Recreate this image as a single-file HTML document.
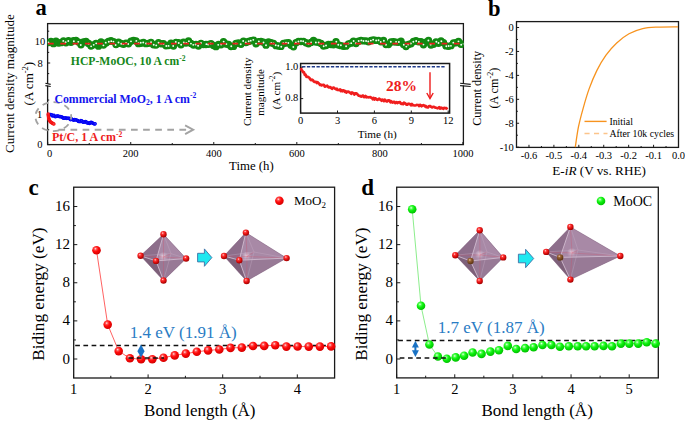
<!DOCTYPE html>
<html><head><meta charset="utf-8"><style>
html,body{margin:0;padding:0;background:#fff;}
svg{display:block;font-family:'Liberation Serif', serif;}
</style></head><body>
<svg width="685" height="424" viewBox="0 0 685 424">
<rect width="685" height="424" fill="#fff"/>
<defs>
<radialGradient id="gr" cx="0.38" cy="0.33" r="0.68">
 <stop offset="0" stop-color="#ffe6e6"/><stop offset="0.22" stop-color="#ff5050"/><stop offset="0.5" stop-color="#ff0a0a"/><stop offset="1" stop-color="#d40000"/>
</radialGradient>
<radialGradient id="gg" cx="0.38" cy="0.33" r="0.68">
 <stop offset="0" stop-color="#eaffea"/><stop offset="0.22" stop-color="#55ff55"/><stop offset="0.5" stop-color="#0cf00c"/><stop offset="1" stop-color="#00c000"/>
</radialGradient>
<radialGradient id="go" cx="0.38" cy="0.33" r="0.68">
 <stop offset="0" stop-color="#ffdddd"/><stop offset="0.25" stop-color="#ff3a3a"/><stop offset="0.6" stop-color="#e01010"/><stop offset="1" stop-color="#a00000"/>
</radialGradient>
<radialGradient id="gc" cx="0.38" cy="0.33" r="0.68">
 <stop offset="0" stop-color="#e8c8a8"/><stop offset="0.3" stop-color="#9a6436"/><stop offset="1" stop-color="#5a3210"/>
</radialGradient>
<radialGradient id="gm" cx="0.45" cy="0.42" r="0.6">
 <stop offset="0" stop-color="#e8d4e4"/><stop offset="1" stop-color="#b79ab4" stop-opacity="0"/>
</radialGradient>
</defs>
<rect x="47.6" y="23.6" width="415.79999999999995" height="121.0" fill="none" stroke="#1a1a1a" stroke-width="1.3"/>
<line x1="47.70" y1="144.60" x2="47.70" y2="142.00" stroke="#1a1a1a" stroke-width="1" />
<line x1="89.22" y1="144.60" x2="89.22" y2="143.00" stroke="#1a1a1a" stroke-width="1" />
<line x1="130.74" y1="144.60" x2="130.74" y2="142.00" stroke="#1a1a1a" stroke-width="1" />
<line x1="172.26" y1="144.60" x2="172.26" y2="143.00" stroke="#1a1a1a" stroke-width="1" />
<line x1="213.78" y1="144.60" x2="213.78" y2="142.00" stroke="#1a1a1a" stroke-width="1" />
<line x1="255.30" y1="144.60" x2="255.30" y2="143.00" stroke="#1a1a1a" stroke-width="1" />
<line x1="296.82" y1="144.60" x2="296.82" y2="142.00" stroke="#1a1a1a" stroke-width="1" />
<line x1="338.34" y1="144.60" x2="338.34" y2="143.00" stroke="#1a1a1a" stroke-width="1" />
<line x1="379.86" y1="144.60" x2="379.86" y2="142.00" stroke="#1a1a1a" stroke-width="1" />
<line x1="421.38" y1="144.60" x2="421.38" y2="143.00" stroke="#1a1a1a" stroke-width="1" />
<line x1="462.90" y1="144.60" x2="462.90" y2="142.00" stroke="#1a1a1a" stroke-width="1" />
<text x="49.50" y="157.20" font-size="10.5" text-anchor="middle" fill="#000" >0</text>
<text x="130.74" y="157.20" font-size="10.5" text-anchor="middle" fill="#000" >200</text>
<text x="213.78" y="157.20" font-size="10.5" text-anchor="middle" fill="#000" >400</text>
<text x="296.82" y="157.20" font-size="10.5" text-anchor="middle" fill="#000" >600</text>
<text x="379.86" y="157.20" font-size="10.5" text-anchor="middle" fill="#000" >800</text>
<text x="462.90" y="157.20" font-size="10.5" text-anchor="middle" fill="#000" >1000</text>
<text x="251.40" y="169.50" font-size="12.8" text-anchor="middle" fill="#000" >Time (h)</text>
<line x1="47.60" y1="144.60" x2="50.20" y2="144.60" stroke="#1a1a1a" stroke-width="1" />
<line x1="47.60" y1="129.75" x2="49.20" y2="129.75" stroke="#1a1a1a" stroke-width="1" />
<line x1="47.60" y1="114.90" x2="50.20" y2="114.90" stroke="#1a1a1a" stroke-width="1" />
<line x1="47.60" y1="100.05" x2="49.20" y2="100.05" stroke="#1a1a1a" stroke-width="1" />
<line x1="47.60" y1="73.60" x2="49.20" y2="73.60" stroke="#1a1a1a" stroke-width="1" />
<line x1="47.60" y1="63.00" x2="50.20" y2="63.00" stroke="#1a1a1a" stroke-width="1" />
<line x1="47.60" y1="52.40" x2="49.20" y2="52.40" stroke="#1a1a1a" stroke-width="1" />
<line x1="47.60" y1="41.80" x2="50.20" y2="41.80" stroke="#1a1a1a" stroke-width="1" />
<line x1="47.60" y1="31.20" x2="49.20" y2="31.20" stroke="#1a1a1a" stroke-width="1" />
<text x="42.50" y="148.20" font-size="10.5" text-anchor="end" fill="#000" >0</text>
<text x="42.30" y="117.50" font-size="10.5" text-anchor="end" fill="#000" >1</text>
<text x="42.80" y="66.60" font-size="10.5" text-anchor="end" fill="#000" >8</text>
<text x="45.20" y="45.40" font-size="10.5" text-anchor="end" fill="#000" >10</text>
<polygon points="45.4,83.5 50.7,84.8 50.7,86.1 45.4,85.3" fill="#fff" stroke="none"/>
<line x1="45.40" y1="83.20" x2="50.70" y2="84.40" stroke="#1a1a1a" stroke-width="1.1" />
<line x1="45.40" y1="85.60" x2="50.70" y2="86.50" stroke="#1a1a1a" stroke-width="1.1" />
<polygon points="460.1,83.5 470.7,84.8 470.7,86.1 460.1,85.3" fill="#fff" stroke="none"/>
<line x1="460.10" y1="83.20" x2="470.70" y2="84.40" stroke="#1a1a1a" stroke-width="1.1" />
<line x1="460.10" y1="85.60" x2="470.70" y2="86.50" stroke="#1a1a1a" stroke-width="1.1" />
<text transform="translate(13.8,83.6) rotate(-90)" font-size="13" text-anchor="middle" fill="#000">Current density magnitude</text>
<text transform="translate(33.2,83.6) rotate(-90)" font-size="13" text-anchor="middle" fill="#000">(A cm<tspan dy="-5" font-size="8.5">-2</tspan><tspan dy="5">)</tspan></text>
<text x="35.40" y="15.20" font-size="22.5" text-anchor="start" font-weight="bold" fill="#000" >a</text>
<clipPath id="cpa"><rect x="47.6" y="23.6" width="415.8" height="121"/></clipPath><g clip-path="url(#cpa)">
<circle cx="48.50" cy="42.61" r="2.5" fill="#128a12" stroke="#128a12" stroke-width="2.4"/>
<circle cx="51.00" cy="41.37" r="2.5" fill="#128a12" stroke="#128a12" stroke-width="2.4"/>
<circle cx="53.50" cy="43.63" r="2.5" fill="#128a12" stroke="#128a12" stroke-width="2.4"/>
<circle cx="56.00" cy="41.30" r="2.5" fill="#128a12" stroke="#128a12" stroke-width="2.4"/>
<circle cx="58.50" cy="42.99" r="2.5" fill="#128a12" stroke="#128a12" stroke-width="2.4"/>
<circle cx="61.00" cy="42.66" r="2.5" fill="#128a12" stroke="#128a12" stroke-width="2.4"/>
<circle cx="63.50" cy="40.88" r="2.5" fill="#128a12" stroke="#128a12" stroke-width="2.4"/>
<circle cx="66.00" cy="42.69" r="2.5" fill="#128a12" stroke="#128a12" stroke-width="2.4"/>
<circle cx="68.50" cy="40.78" r="2.5" fill="#128a12" stroke="#128a12" stroke-width="2.4"/>
<circle cx="71.00" cy="42.26" r="2.5" fill="#128a12" stroke="#128a12" stroke-width="2.4"/>
<circle cx="73.50" cy="40.81" r="2.5" fill="#128a12" stroke="#128a12" stroke-width="2.4"/>
<circle cx="76.00" cy="40.41" r="2.5" fill="#128a12" stroke="#128a12" stroke-width="2.4"/>
<circle cx="78.50" cy="42.08" r="2.5" fill="#128a12" stroke="#128a12" stroke-width="2.4"/>
<circle cx="81.00" cy="44.83" r="2.5" fill="#128a12" stroke="#128a12" stroke-width="2.4"/>
<circle cx="83.50" cy="42.00" r="2.5" fill="#128a12" stroke="#128a12" stroke-width="2.4"/>
<circle cx="86.00" cy="41.55" r="2.5" fill="#128a12" stroke="#128a12" stroke-width="2.4"/>
<circle cx="88.50" cy="43.57" r="2.5" fill="#128a12" stroke="#128a12" stroke-width="2.4"/>
<circle cx="91.00" cy="46.01" r="2.5" fill="#128a12" stroke="#128a12" stroke-width="2.4"/>
<circle cx="93.50" cy="44.86" r="2.5" fill="#128a12" stroke="#128a12" stroke-width="2.4"/>
<circle cx="96.00" cy="43.48" r="2.5" fill="#128a12" stroke="#128a12" stroke-width="2.4"/>
<circle cx="98.50" cy="46.13" r="2.5" fill="#128a12" stroke="#128a12" stroke-width="2.4"/>
<circle cx="101.00" cy="42.04" r="2.5" fill="#128a12" stroke="#128a12" stroke-width="2.4"/>
<circle cx="103.50" cy="44.99" r="2.5" fill="#128a12" stroke="#128a12" stroke-width="2.4"/>
<circle cx="106.00" cy="42.95" r="2.5" fill="#128a12" stroke="#128a12" stroke-width="2.4"/>
<circle cx="108.50" cy="41.45" r="2.5" fill="#128a12" stroke="#128a12" stroke-width="2.4"/>
<circle cx="111.00" cy="40.78" r="2.5" fill="#128a12" stroke="#128a12" stroke-width="2.4"/>
<circle cx="113.50" cy="41.58" r="2.5" fill="#128a12" stroke="#128a12" stroke-width="2.4"/>
<circle cx="116.00" cy="44.60" r="2.5" fill="#128a12" stroke="#128a12" stroke-width="2.4"/>
<circle cx="118.50" cy="42.23" r="2.5" fill="#128a12" stroke="#128a12" stroke-width="2.4"/>
<circle cx="121.00" cy="43.56" r="2.5" fill="#128a12" stroke="#128a12" stroke-width="2.4"/>
<circle cx="123.50" cy="44.34" r="2.5" fill="#128a12" stroke="#128a12" stroke-width="2.4"/>
<circle cx="126.00" cy="43.17" r="2.5" fill="#128a12" stroke="#128a12" stroke-width="2.4"/>
<circle cx="128.50" cy="43.71" r="2.5" fill="#128a12" stroke="#128a12" stroke-width="2.4"/>
<circle cx="131.00" cy="41.28" r="2.5" fill="#128a12" stroke="#128a12" stroke-width="2.4"/>
<circle cx="133.50" cy="40.41" r="2.5" fill="#128a12" stroke="#128a12" stroke-width="2.4"/>
<circle cx="136.00" cy="40.90" r="2.5" fill="#128a12" stroke="#128a12" stroke-width="2.4"/>
<circle cx="138.50" cy="43.63" r="2.5" fill="#128a12" stroke="#128a12" stroke-width="2.4"/>
<circle cx="141.00" cy="43.22" r="2.5" fill="#128a12" stroke="#128a12" stroke-width="2.4"/>
<circle cx="143.50" cy="42.46" r="2.5" fill="#128a12" stroke="#128a12" stroke-width="2.4"/>
<circle cx="146.00" cy="43.66" r="2.5" fill="#128a12" stroke="#128a12" stroke-width="2.4"/>
<circle cx="148.50" cy="43.37" r="2.5" fill="#128a12" stroke="#128a12" stroke-width="2.4"/>
<circle cx="151.00" cy="42.44" r="2.5" fill="#128a12" stroke="#128a12" stroke-width="2.4"/>
<circle cx="153.50" cy="44.78" r="2.5" fill="#128a12" stroke="#128a12" stroke-width="2.4"/>
<circle cx="156.00" cy="45.09" r="2.5" fill="#128a12" stroke="#128a12" stroke-width="2.4"/>
<circle cx="158.50" cy="42.74" r="2.5" fill="#128a12" stroke="#128a12" stroke-width="2.4"/>
<circle cx="161.00" cy="43.70" r="2.5" fill="#128a12" stroke="#128a12" stroke-width="2.4"/>
<circle cx="163.50" cy="43.77" r="2.5" fill="#128a12" stroke="#128a12" stroke-width="2.4"/>
<circle cx="166.00" cy="45.69" r="2.5" fill="#128a12" stroke="#128a12" stroke-width="2.4"/>
<circle cx="168.50" cy="45.57" r="2.5" fill="#128a12" stroke="#128a12" stroke-width="2.4"/>
<circle cx="171.00" cy="43.14" r="2.5" fill="#128a12" stroke="#128a12" stroke-width="2.4"/>
<circle cx="173.50" cy="46.03" r="2.5" fill="#128a12" stroke="#128a12" stroke-width="2.4"/>
<circle cx="176.00" cy="42.39" r="2.5" fill="#128a12" stroke="#128a12" stroke-width="2.4"/>
<circle cx="178.50" cy="42.73" r="2.5" fill="#128a12" stroke="#128a12" stroke-width="2.4"/>
<circle cx="181.00" cy="44.69" r="2.5" fill="#128a12" stroke="#128a12" stroke-width="2.4"/>
<circle cx="183.50" cy="42.10" r="2.5" fill="#128a12" stroke="#128a12" stroke-width="2.4"/>
<circle cx="186.00" cy="43.02" r="2.5" fill="#128a12" stroke="#128a12" stroke-width="2.4"/>
<circle cx="188.50" cy="40.91" r="2.5" fill="#128a12" stroke="#128a12" stroke-width="2.4"/>
<circle cx="191.00" cy="43.57" r="2.5" fill="#128a12" stroke="#128a12" stroke-width="2.4"/>
<circle cx="193.50" cy="45.02" r="2.5" fill="#128a12" stroke="#128a12" stroke-width="2.4"/>
<circle cx="196.00" cy="44.49" r="2.5" fill="#128a12" stroke="#128a12" stroke-width="2.4"/>
<circle cx="198.50" cy="45.94" r="2.5" fill="#128a12" stroke="#128a12" stroke-width="2.4"/>
<circle cx="201.00" cy="43.41" r="2.5" fill="#128a12" stroke="#128a12" stroke-width="2.4"/>
<circle cx="203.50" cy="44.59" r="2.5" fill="#128a12" stroke="#128a12" stroke-width="2.4"/>
<circle cx="206.00" cy="44.46" r="2.5" fill="#128a12" stroke="#128a12" stroke-width="2.4"/>
<circle cx="208.50" cy="44.33" r="2.5" fill="#128a12" stroke="#128a12" stroke-width="2.4"/>
<circle cx="211.00" cy="43.62" r="2.5" fill="#128a12" stroke="#128a12" stroke-width="2.4"/>
<circle cx="213.50" cy="45.44" r="2.5" fill="#128a12" stroke="#128a12" stroke-width="2.4"/>
<circle cx="216.00" cy="46.65" r="2.5" fill="#128a12" stroke="#128a12" stroke-width="2.4"/>
<circle cx="218.50" cy="44.53" r="2.5" fill="#128a12" stroke="#128a12" stroke-width="2.4"/>
<circle cx="221.00" cy="44.81" r="2.5" fill="#128a12" stroke="#128a12" stroke-width="2.4"/>
<circle cx="223.50" cy="41.65" r="2.5" fill="#128a12" stroke="#128a12" stroke-width="2.4"/>
<circle cx="226.00" cy="44.01" r="2.5" fill="#128a12" stroke="#128a12" stroke-width="2.4"/>
<circle cx="228.50" cy="44.54" r="2.5" fill="#128a12" stroke="#128a12" stroke-width="2.4"/>
<circle cx="231.00" cy="46.59" r="2.5" fill="#128a12" stroke="#128a12" stroke-width="2.4"/>
<circle cx="233.50" cy="46.39" r="2.5" fill="#128a12" stroke="#128a12" stroke-width="2.4"/>
<circle cx="236.00" cy="43.41" r="2.5" fill="#128a12" stroke="#128a12" stroke-width="2.4"/>
<circle cx="238.50" cy="42.92" r="2.5" fill="#128a12" stroke="#128a12" stroke-width="2.4"/>
<circle cx="241.00" cy="44.27" r="2.5" fill="#128a12" stroke="#128a12" stroke-width="2.4"/>
<circle cx="243.50" cy="41.26" r="2.5" fill="#128a12" stroke="#128a12" stroke-width="2.4"/>
<circle cx="246.00" cy="42.57" r="2.5" fill="#128a12" stroke="#128a12" stroke-width="2.4"/>
<circle cx="248.50" cy="41.45" r="2.5" fill="#128a12" stroke="#128a12" stroke-width="2.4"/>
<circle cx="251.00" cy="40.78" r="2.5" fill="#128a12" stroke="#128a12" stroke-width="2.4"/>
<circle cx="253.50" cy="40.23" r="2.5" fill="#128a12" stroke="#128a12" stroke-width="2.4"/>
<circle cx="256.00" cy="43.87" r="2.5" fill="#128a12" stroke="#128a12" stroke-width="2.4"/>
<circle cx="258.50" cy="41.69" r="2.5" fill="#128a12" stroke="#128a12" stroke-width="2.4"/>
<circle cx="261.00" cy="41.57" r="2.5" fill="#128a12" stroke="#128a12" stroke-width="2.4"/>
<circle cx="263.50" cy="42.30" r="2.5" fill="#128a12" stroke="#128a12" stroke-width="2.4"/>
<circle cx="266.00" cy="45.15" r="2.5" fill="#128a12" stroke="#128a12" stroke-width="2.4"/>
<circle cx="268.50" cy="41.88" r="2.5" fill="#128a12" stroke="#128a12" stroke-width="2.4"/>
<circle cx="271.00" cy="42.72" r="2.5" fill="#128a12" stroke="#128a12" stroke-width="2.4"/>
<circle cx="273.50" cy="43.56" r="2.5" fill="#128a12" stroke="#128a12" stroke-width="2.4"/>
<circle cx="276.00" cy="45.66" r="2.5" fill="#128a12" stroke="#128a12" stroke-width="2.4"/>
<circle cx="278.50" cy="46.04" r="2.5" fill="#128a12" stroke="#128a12" stroke-width="2.4"/>
<circle cx="281.00" cy="46.42" r="2.5" fill="#128a12" stroke="#128a12" stroke-width="2.4"/>
<circle cx="283.50" cy="43.39" r="2.5" fill="#128a12" stroke="#128a12" stroke-width="2.4"/>
<circle cx="286.00" cy="43.07" r="2.5" fill="#128a12" stroke="#128a12" stroke-width="2.4"/>
<circle cx="288.50" cy="42.65" r="2.5" fill="#128a12" stroke="#128a12" stroke-width="2.4"/>
<circle cx="291.00" cy="45.34" r="2.5" fill="#128a12" stroke="#128a12" stroke-width="2.4"/>
<circle cx="293.50" cy="46.68" r="2.5" fill="#128a12" stroke="#128a12" stroke-width="2.4"/>
<circle cx="296.00" cy="42.79" r="2.5" fill="#128a12" stroke="#128a12" stroke-width="2.4"/>
<circle cx="298.50" cy="41.57" r="2.5" fill="#128a12" stroke="#128a12" stroke-width="2.4"/>
<circle cx="301.00" cy="41.44" r="2.5" fill="#128a12" stroke="#128a12" stroke-width="2.4"/>
<circle cx="303.50" cy="41.40" r="2.5" fill="#128a12" stroke="#128a12" stroke-width="2.4"/>
<circle cx="306.00" cy="42.75" r="2.5" fill="#128a12" stroke="#128a12" stroke-width="2.4"/>
<circle cx="308.50" cy="43.78" r="2.5" fill="#128a12" stroke="#128a12" stroke-width="2.4"/>
<circle cx="311.00" cy="42.38" r="2.5" fill="#128a12" stroke="#128a12" stroke-width="2.4"/>
<circle cx="313.50" cy="40.50" r="2.5" fill="#128a12" stroke="#128a12" stroke-width="2.4"/>
<circle cx="316.00" cy="42.08" r="2.5" fill="#128a12" stroke="#128a12" stroke-width="2.4"/>
<circle cx="318.50" cy="42.36" r="2.5" fill="#128a12" stroke="#128a12" stroke-width="2.4"/>
<circle cx="321.00" cy="43.52" r="2.5" fill="#128a12" stroke="#128a12" stroke-width="2.4"/>
<circle cx="323.50" cy="46.02" r="2.5" fill="#128a12" stroke="#128a12" stroke-width="2.4"/>
<circle cx="326.00" cy="45.48" r="2.5" fill="#128a12" stroke="#128a12" stroke-width="2.4"/>
<circle cx="328.50" cy="44.34" r="2.5" fill="#128a12" stroke="#128a12" stroke-width="2.4"/>
<circle cx="331.00" cy="44.49" r="2.5" fill="#128a12" stroke="#128a12" stroke-width="2.4"/>
<circle cx="333.50" cy="44.86" r="2.5" fill="#128a12" stroke="#128a12" stroke-width="2.4"/>
<circle cx="336.00" cy="41.63" r="2.5" fill="#128a12" stroke="#128a12" stroke-width="2.4"/>
<circle cx="338.50" cy="45.07" r="2.5" fill="#128a12" stroke="#128a12" stroke-width="2.4"/>
<circle cx="341.00" cy="45.63" r="2.5" fill="#128a12" stroke="#128a12" stroke-width="2.4"/>
<circle cx="343.50" cy="46.33" r="2.5" fill="#128a12" stroke="#128a12" stroke-width="2.4"/>
<circle cx="346.00" cy="46.16" r="2.5" fill="#128a12" stroke="#128a12" stroke-width="2.4"/>
<circle cx="348.50" cy="43.92" r="2.5" fill="#128a12" stroke="#128a12" stroke-width="2.4"/>
<circle cx="351.00" cy="43.17" r="2.5" fill="#128a12" stroke="#128a12" stroke-width="2.4"/>
<circle cx="353.50" cy="41.31" r="2.5" fill="#128a12" stroke="#128a12" stroke-width="2.4"/>
<circle cx="356.00" cy="43.52" r="2.5" fill="#128a12" stroke="#128a12" stroke-width="2.4"/>
<circle cx="358.50" cy="41.21" r="2.5" fill="#128a12" stroke="#128a12" stroke-width="2.4"/>
<circle cx="361.00" cy="40.43" r="2.5" fill="#128a12" stroke="#128a12" stroke-width="2.4"/>
<circle cx="363.50" cy="40.92" r="2.5" fill="#128a12" stroke="#128a12" stroke-width="2.4"/>
<circle cx="366.00" cy="40.84" r="2.5" fill="#128a12" stroke="#128a12" stroke-width="2.4"/>
<circle cx="368.50" cy="41.77" r="2.5" fill="#128a12" stroke="#128a12" stroke-width="2.4"/>
<circle cx="371.00" cy="40.54" r="2.5" fill="#128a12" stroke="#128a12" stroke-width="2.4"/>
<circle cx="373.50" cy="39.83" r="2.5" fill="#128a12" stroke="#128a12" stroke-width="2.4"/>
<circle cx="376.00" cy="40.40" r="2.5" fill="#128a12" stroke="#128a12" stroke-width="2.4"/>
<circle cx="378.50" cy="40.33" r="2.5" fill="#128a12" stroke="#128a12" stroke-width="2.4"/>
<circle cx="381.00" cy="41.72" r="2.5" fill="#128a12" stroke="#128a12" stroke-width="2.4"/>
<circle cx="383.50" cy="40.38" r="2.5" fill="#128a12" stroke="#128a12" stroke-width="2.4"/>
<circle cx="386.00" cy="44.49" r="2.5" fill="#128a12" stroke="#128a12" stroke-width="2.4"/>
<circle cx="388.50" cy="44.53" r="2.5" fill="#128a12" stroke="#128a12" stroke-width="2.4"/>
<circle cx="391.00" cy="42.03" r="2.5" fill="#128a12" stroke="#128a12" stroke-width="2.4"/>
<circle cx="393.50" cy="41.71" r="2.5" fill="#128a12" stroke="#128a12" stroke-width="2.4"/>
<circle cx="396.00" cy="42.12" r="2.5" fill="#128a12" stroke="#128a12" stroke-width="2.4"/>
<circle cx="398.50" cy="42.35" r="2.5" fill="#128a12" stroke="#128a12" stroke-width="2.4"/>
<circle cx="401.00" cy="41.12" r="2.5" fill="#128a12" stroke="#128a12" stroke-width="2.4"/>
<circle cx="403.50" cy="44.62" r="2.5" fill="#128a12" stroke="#128a12" stroke-width="2.4"/>
<circle cx="406.00" cy="46.62" r="2.5" fill="#128a12" stroke="#128a12" stroke-width="2.4"/>
<circle cx="408.50" cy="44.47" r="2.5" fill="#128a12" stroke="#128a12" stroke-width="2.4"/>
<circle cx="411.00" cy="43.82" r="2.5" fill="#128a12" stroke="#128a12" stroke-width="2.4"/>
<circle cx="413.50" cy="41.44" r="2.5" fill="#128a12" stroke="#128a12" stroke-width="2.4"/>
<circle cx="416.00" cy="40.70" r="2.5" fill="#128a12" stroke="#128a12" stroke-width="2.4"/>
<circle cx="418.50" cy="41.73" r="2.5" fill="#128a12" stroke="#128a12" stroke-width="2.4"/>
<circle cx="421.00" cy="41.68" r="2.5" fill="#128a12" stroke="#128a12" stroke-width="2.4"/>
<circle cx="423.50" cy="44.70" r="2.5" fill="#128a12" stroke="#128a12" stroke-width="2.4"/>
<circle cx="426.00" cy="42.16" r="2.5" fill="#128a12" stroke="#128a12" stroke-width="2.4"/>
<circle cx="428.50" cy="40.52" r="2.5" fill="#128a12" stroke="#128a12" stroke-width="2.4"/>
<circle cx="431.00" cy="44.96" r="2.5" fill="#128a12" stroke="#128a12" stroke-width="2.4"/>
<circle cx="433.50" cy="44.23" r="2.5" fill="#128a12" stroke="#128a12" stroke-width="2.4"/>
<circle cx="436.00" cy="41.91" r="2.5" fill="#128a12" stroke="#128a12" stroke-width="2.4"/>
<circle cx="438.50" cy="43.24" r="2.5" fill="#128a12" stroke="#128a12" stroke-width="2.4"/>
<circle cx="441.00" cy="40.92" r="2.5" fill="#128a12" stroke="#128a12" stroke-width="2.4"/>
<circle cx="443.50" cy="42.81" r="2.5" fill="#128a12" stroke="#128a12" stroke-width="2.4"/>
<circle cx="446.00" cy="45.91" r="2.5" fill="#128a12" stroke="#128a12" stroke-width="2.4"/>
<circle cx="448.50" cy="46.37" r="2.5" fill="#128a12" stroke="#128a12" stroke-width="2.4"/>
<circle cx="451.00" cy="45.63" r="2.5" fill="#128a12" stroke="#128a12" stroke-width="2.4"/>
<circle cx="453.50" cy="43.02" r="2.5" fill="#128a12" stroke="#128a12" stroke-width="2.4"/>
<circle cx="456.00" cy="42.68" r="2.5" fill="#128a12" stroke="#128a12" stroke-width="2.4"/>
<circle cx="458.50" cy="41.48" r="2.5" fill="#128a12" stroke="#128a12" stroke-width="2.4"/>
<circle cx="461.00" cy="44.33" r="2.5" fill="#128a12" stroke="#128a12" stroke-width="2.4"/>
<circle cx="463.50" cy="44.03" r="2.5" fill="#128a12" stroke="#128a12" stroke-width="2.4"/>
<circle cx="48.36" cy="42.39" r="0.95" fill="#f2fff2"/>
<circle cx="63.28" cy="40.90" r="0.95" fill="#f2fff2"/>
<circle cx="65.62" cy="42.31" r="0.95" fill="#f2fff2"/>
<circle cx="68.31" cy="40.94" r="0.95" fill="#f2fff2"/>
<circle cx="73.85" cy="41.20" r="0.95" fill="#f2fff2"/>
<circle cx="78.28" cy="41.86" r="0.95" fill="#f2fff2"/>
<circle cx="80.76" cy="44.93" r="0.95" fill="#f2fff2"/>
<circle cx="88.62" cy="43.81" r="0.95" fill="#f2fff2"/>
<circle cx="91.13" cy="46.33" r="0.95" fill="#f2fff2"/>
<circle cx="93.70" cy="44.84" r="0.95" fill="#f2fff2"/>
<circle cx="96.23" cy="43.35" r="0.95" fill="#f2fff2"/>
<circle cx="103.42" cy="45.35" r="0.95" fill="#f2fff2"/>
<circle cx="105.74" cy="42.65" r="0.95" fill="#f2fff2"/>
<circle cx="108.82" cy="41.70" r="0.95" fill="#f2fff2"/>
<circle cx="111.26" cy="41.17" r="0.95" fill="#f2fff2"/>
<circle cx="113.38" cy="41.62" r="0.95" fill="#f2fff2"/>
<circle cx="115.61" cy="44.98" r="0.95" fill="#f2fff2"/>
<circle cx="118.52" cy="42.57" r="0.95" fill="#f2fff2"/>
<circle cx="121.30" cy="43.82" r="0.95" fill="#f2fff2"/>
<circle cx="123.30" cy="44.17" r="0.95" fill="#f2fff2"/>
<circle cx="126.07" cy="42.98" r="0.95" fill="#f2fff2"/>
<circle cx="128.20" cy="44.03" r="0.95" fill="#f2fff2"/>
<circle cx="130.97" cy="41.34" r="0.95" fill="#f2fff2"/>
<circle cx="136.33" cy="40.90" r="0.95" fill="#f2fff2"/>
<circle cx="138.52" cy="43.24" r="0.95" fill="#f2fff2"/>
<circle cx="140.75" cy="42.82" r="0.95" fill="#f2fff2"/>
<circle cx="143.24" cy="42.44" r="0.95" fill="#f2fff2"/>
<circle cx="146.05" cy="43.52" r="0.95" fill="#f2fff2"/>
<circle cx="148.54" cy="43.60" r="0.95" fill="#f2fff2"/>
<circle cx="151.05" cy="42.24" r="0.95" fill="#f2fff2"/>
<circle cx="153.72" cy="44.79" r="0.95" fill="#f2fff2"/>
<circle cx="156.21" cy="45.42" r="0.95" fill="#f2fff2"/>
<circle cx="158.59" cy="42.74" r="0.95" fill="#f2fff2"/>
<circle cx="161.15" cy="43.66" r="0.95" fill="#f2fff2"/>
<circle cx="163.48" cy="44.12" r="0.95" fill="#f2fff2"/>
<circle cx="166.30" cy="46.04" r="0.95" fill="#f2fff2"/>
<circle cx="168.55" cy="45.92" r="0.95" fill="#f2fff2"/>
<circle cx="173.20" cy="45.99" r="0.95" fill="#f2fff2"/>
<circle cx="175.79" cy="42.05" r="0.95" fill="#f2fff2"/>
<circle cx="178.73" cy="43.05" r="0.95" fill="#f2fff2"/>
<circle cx="181.17" cy="44.81" r="0.95" fill="#f2fff2"/>
<circle cx="183.81" cy="42.47" r="0.95" fill="#f2fff2"/>
<circle cx="186.36" cy="42.93" r="0.95" fill="#f2fff2"/>
<circle cx="188.89" cy="41.17" r="0.95" fill="#f2fff2"/>
<circle cx="190.95" cy="43.58" r="0.95" fill="#f2fff2"/>
<circle cx="193.26" cy="44.87" r="0.95" fill="#f2fff2"/>
<circle cx="195.62" cy="44.53" r="0.95" fill="#f2fff2"/>
<circle cx="198.11" cy="45.80" r="0.95" fill="#f2fff2"/>
<circle cx="201.01" cy="43.06" r="0.95" fill="#f2fff2"/>
<circle cx="206.38" cy="44.14" r="0.95" fill="#f2fff2"/>
<circle cx="208.13" cy="44.55" r="0.95" fill="#f2fff2"/>
<circle cx="210.70" cy="43.56" r="0.95" fill="#f2fff2"/>
<circle cx="218.22" cy="44.86" r="0.95" fill="#f2fff2"/>
<circle cx="221.16" cy="44.48" r="0.95" fill="#f2fff2"/>
<circle cx="223.65" cy="41.59" r="0.95" fill="#f2fff2"/>
<circle cx="226.35" cy="44.11" r="0.95" fill="#f2fff2"/>
<circle cx="231.28" cy="46.24" r="0.95" fill="#f2fff2"/>
<circle cx="235.87" cy="43.45" r="0.95" fill="#f2fff2"/>
<circle cx="240.70" cy="44.29" r="0.95" fill="#f2fff2"/>
<circle cx="243.19" cy="40.99" r="0.95" fill="#f2fff2"/>
<circle cx="245.76" cy="42.42" r="0.95" fill="#f2fff2"/>
<circle cx="248.71" cy="41.28" r="0.95" fill="#f2fff2"/>
<circle cx="250.74" cy="40.66" r="0.95" fill="#f2fff2"/>
<circle cx="253.30" cy="39.84" r="0.95" fill="#f2fff2"/>
<circle cx="256.04" cy="43.62" r="0.95" fill="#f2fff2"/>
<circle cx="258.85" cy="41.38" r="0.95" fill="#f2fff2"/>
<circle cx="263.50" cy="42.57" r="0.95" fill="#f2fff2"/>
<circle cx="266.01" cy="45.30" r="0.95" fill="#f2fff2"/>
<circle cx="271.27" cy="42.89" r="0.95" fill="#f2fff2"/>
<circle cx="273.42" cy="43.44" r="0.95" fill="#f2fff2"/>
<circle cx="275.70" cy="45.31" r="0.95" fill="#f2fff2"/>
<circle cx="278.30" cy="45.77" r="0.95" fill="#f2fff2"/>
<circle cx="281.27" cy="46.72" r="0.95" fill="#f2fff2"/>
<circle cx="283.33" cy="43.18" r="0.95" fill="#f2fff2"/>
<circle cx="285.97" cy="42.80" r="0.95" fill="#f2fff2"/>
<circle cx="288.31" cy="43.02" r="0.95" fill="#f2fff2"/>
<circle cx="293.30" cy="47.05" r="0.95" fill="#f2fff2"/>
<circle cx="295.89" cy="42.39" r="0.95" fill="#f2fff2"/>
<circle cx="298.48" cy="41.57" r="0.95" fill="#f2fff2"/>
<circle cx="301.00" cy="41.05" r="0.95" fill="#f2fff2"/>
<circle cx="303.17" cy="41.32" r="0.95" fill="#f2fff2"/>
<circle cx="305.62" cy="42.59" r="0.95" fill="#f2fff2"/>
<circle cx="308.57" cy="43.81" r="0.95" fill="#f2fff2"/>
<circle cx="311.13" cy="42.56" r="0.95" fill="#f2fff2"/>
<circle cx="315.86" cy="42.46" r="0.95" fill="#f2fff2"/>
<circle cx="318.68" cy="42.48" r="0.95" fill="#f2fff2"/>
<circle cx="321.27" cy="43.84" r="0.95" fill="#f2fff2"/>
<circle cx="323.69" cy="46.27" r="0.95" fill="#f2fff2"/>
<circle cx="326.02" cy="45.48" r="0.95" fill="#f2fff2"/>
<circle cx="336.31" cy="41.78" r="0.95" fill="#f2fff2"/>
<circle cx="338.28" cy="44.69" r="0.95" fill="#f2fff2"/>
<circle cx="340.89" cy="45.31" r="0.95" fill="#f2fff2"/>
<circle cx="346.10" cy="46.27" r="0.95" fill="#f2fff2"/>
<circle cx="348.49" cy="43.52" r="0.95" fill="#f2fff2"/>
<circle cx="351.20" cy="43.17" r="0.95" fill="#f2fff2"/>
<circle cx="353.63" cy="40.96" r="0.95" fill="#f2fff2"/>
<circle cx="355.80" cy="43.18" r="0.95" fill="#f2fff2"/>
<circle cx="358.68" cy="40.97" r="0.95" fill="#f2fff2"/>
<circle cx="361.38" cy="40.42" r="0.95" fill="#f2fff2"/>
<circle cx="363.48" cy="41.06" r="0.95" fill="#f2fff2"/>
<circle cx="366.09" cy="40.95" r="0.95" fill="#f2fff2"/>
<circle cx="368.22" cy="41.57" r="0.95" fill="#f2fff2"/>
<circle cx="370.84" cy="40.60" r="0.95" fill="#f2fff2"/>
<circle cx="373.15" cy="39.65" r="0.95" fill="#f2fff2"/>
<circle cx="376.15" cy="40.54" r="0.95" fill="#f2fff2"/>
<circle cx="378.51" cy="40.30" r="0.95" fill="#f2fff2"/>
<circle cx="380.69" cy="42.03" r="0.95" fill="#f2fff2"/>
<circle cx="383.88" cy="40.73" r="0.95" fill="#f2fff2"/>
<circle cx="385.97" cy="44.75" r="0.95" fill="#f2fff2"/>
<circle cx="390.81" cy="41.80" r="0.95" fill="#f2fff2"/>
<circle cx="396.07" cy="41.83" r="0.95" fill="#f2fff2"/>
<circle cx="398.86" cy="42.05" r="0.95" fill="#f2fff2"/>
<circle cx="403.81" cy="44.78" r="0.95" fill="#f2fff2"/>
<circle cx="406.32" cy="46.61" r="0.95" fill="#f2fff2"/>
<circle cx="408.10" cy="44.47" r="0.95" fill="#f2fff2"/>
<circle cx="410.84" cy="43.53" r="0.95" fill="#f2fff2"/>
<circle cx="413.35" cy="41.71" r="0.95" fill="#f2fff2"/>
<circle cx="416.20" cy="40.97" r="0.95" fill="#f2fff2"/>
<circle cx="418.84" cy="41.90" r="0.95" fill="#f2fff2"/>
<circle cx="423.40" cy="44.62" r="0.95" fill="#f2fff2"/>
<circle cx="428.39" cy="40.46" r="0.95" fill="#f2fff2"/>
<circle cx="430.64" cy="44.64" r="0.95" fill="#f2fff2"/>
<circle cx="436.35" cy="41.71" r="0.95" fill="#f2fff2"/>
<circle cx="438.51" cy="42.99" r="0.95" fill="#f2fff2"/>
<circle cx="441.36" cy="41.23" r="0.95" fill="#f2fff2"/>
<circle cx="446.33" cy="46.26" r="0.95" fill="#f2fff2"/>
<circle cx="448.68" cy="46.01" r="0.95" fill="#f2fff2"/>
<circle cx="450.96" cy="45.83" r="0.95" fill="#f2fff2"/>
<circle cx="453.33" cy="42.66" r="0.95" fill="#f2fff2"/>
<circle cx="458.48" cy="41.35" r="0.95" fill="#f2fff2"/>
<circle cx="461.19" cy="44.71" r="0.95" fill="#f2fff2"/>
<circle cx="463.62" cy="43.87" r="0.95" fill="#f2fff2"/>
<line x1="48.00" y1="43.60" x2="462.50" y2="43.60" stroke="#e8211d" stroke-width="1.6" stroke-dasharray="5.7 6.6"/>
</g>
<circle cx="48.50" cy="114.68" r="1.25" fill="#6a6aff" stroke="#0000f4" stroke-width="1.1"/>
<circle cx="49.29" cy="114.62" r="1.25" fill="#6a6aff" stroke="#0000f4" stroke-width="1.1"/>
<circle cx="50.08" cy="114.47" r="1.25" fill="#6a6aff" stroke="#0000f4" stroke-width="1.1"/>
<circle cx="50.87" cy="114.64" r="1.25" fill="#6a6aff" stroke="#0000f4" stroke-width="1.1"/>
<circle cx="51.66" cy="114.87" r="1.25" fill="#6a6aff" stroke="#0000f4" stroke-width="1.1"/>
<circle cx="52.45" cy="116.02" r="1.25" fill="#6a6aff" stroke="#0000f4" stroke-width="1.1"/>
<circle cx="53.24" cy="115.62" r="1.25" fill="#6a6aff" stroke="#0000f4" stroke-width="1.1"/>
<circle cx="54.03" cy="115.40" r="1.25" fill="#6a6aff" stroke="#0000f4" stroke-width="1.1"/>
<circle cx="54.82" cy="116.53" r="1.25" fill="#6a6aff" stroke="#0000f4" stroke-width="1.1"/>
<circle cx="55.61" cy="116.82" r="1.25" fill="#6a6aff" stroke="#0000f4" stroke-width="1.1"/>
<circle cx="56.40" cy="116.21" r="1.25" fill="#6a6aff" stroke="#0000f4" stroke-width="1.1"/>
<circle cx="57.19" cy="115.93" r="1.25" fill="#6a6aff" stroke="#0000f4" stroke-width="1.1"/>
<circle cx="57.98" cy="116.17" r="1.25" fill="#6a6aff" stroke="#0000f4" stroke-width="1.1"/>
<circle cx="58.77" cy="116.18" r="1.25" fill="#6a6aff" stroke="#0000f4" stroke-width="1.1"/>
<circle cx="59.56" cy="116.69" r="1.25" fill="#6a6aff" stroke="#0000f4" stroke-width="1.1"/>
<circle cx="60.35" cy="116.50" r="1.25" fill="#6a6aff" stroke="#0000f4" stroke-width="1.1"/>
<circle cx="61.14" cy="116.86" r="1.25" fill="#6a6aff" stroke="#0000f4" stroke-width="1.1"/>
<circle cx="61.93" cy="117.05" r="1.25" fill="#6a6aff" stroke="#0000f4" stroke-width="1.1"/>
<circle cx="62.72" cy="117.64" r="1.25" fill="#6a6aff" stroke="#0000f4" stroke-width="1.1"/>
<circle cx="63.51" cy="118.24" r="1.25" fill="#6a6aff" stroke="#0000f4" stroke-width="1.1"/>
<circle cx="64.30" cy="118.21" r="1.25" fill="#6a6aff" stroke="#0000f4" stroke-width="1.1"/>
<circle cx="65.09" cy="117.90" r="1.25" fill="#6a6aff" stroke="#0000f4" stroke-width="1.1"/>
<circle cx="65.88" cy="118.06" r="1.25" fill="#6a6aff" stroke="#0000f4" stroke-width="1.1"/>
<circle cx="66.67" cy="118.37" r="1.25" fill="#6a6aff" stroke="#0000f4" stroke-width="1.1"/>
<circle cx="67.46" cy="118.32" r="1.25" fill="#6a6aff" stroke="#0000f4" stroke-width="1.1"/>
<circle cx="68.25" cy="118.42" r="1.25" fill="#6a6aff" stroke="#0000f4" stroke-width="1.1"/>
<circle cx="69.04" cy="118.19" r="1.25" fill="#6a6aff" stroke="#0000f4" stroke-width="1.1"/>
<circle cx="69.83" cy="118.65" r="1.25" fill="#6a6aff" stroke="#0000f4" stroke-width="1.1"/>
<circle cx="70.62" cy="119.79" r="1.25" fill="#6a6aff" stroke="#0000f4" stroke-width="1.1"/>
<circle cx="71.41" cy="118.78" r="1.25" fill="#6a6aff" stroke="#0000f4" stroke-width="1.1"/>
<circle cx="72.20" cy="119.47" r="1.25" fill="#6a6aff" stroke="#0000f4" stroke-width="1.1"/>
<circle cx="72.99" cy="119.82" r="1.25" fill="#6a6aff" stroke="#0000f4" stroke-width="1.1"/>
<circle cx="73.78" cy="120.31" r="1.25" fill="#6a6aff" stroke="#0000f4" stroke-width="1.1"/>
<circle cx="74.57" cy="119.57" r="1.25" fill="#6a6aff" stroke="#0000f4" stroke-width="1.1"/>
<circle cx="75.36" cy="119.82" r="1.25" fill="#6a6aff" stroke="#0000f4" stroke-width="1.1"/>
<circle cx="76.15" cy="119.95" r="1.25" fill="#6a6aff" stroke="#0000f4" stroke-width="1.1"/>
<circle cx="76.94" cy="120.33" r="1.25" fill="#6a6aff" stroke="#0000f4" stroke-width="1.1"/>
<circle cx="77.73" cy="120.57" r="1.25" fill="#6a6aff" stroke="#0000f4" stroke-width="1.1"/>
<circle cx="78.52" cy="121.43" r="1.25" fill="#6a6aff" stroke="#0000f4" stroke-width="1.1"/>
<circle cx="79.31" cy="121.43" r="1.25" fill="#6a6aff" stroke="#0000f4" stroke-width="1.1"/>
<circle cx="80.10" cy="121.62" r="1.25" fill="#6a6aff" stroke="#0000f4" stroke-width="1.1"/>
<circle cx="80.89" cy="120.57" r="1.25" fill="#6a6aff" stroke="#0000f4" stroke-width="1.1"/>
<circle cx="81.68" cy="120.74" r="1.25" fill="#6a6aff" stroke="#0000f4" stroke-width="1.1"/>
<circle cx="82.47" cy="121.83" r="1.25" fill="#6a6aff" stroke="#0000f4" stroke-width="1.1"/>
<circle cx="83.26" cy="122.24" r="1.25" fill="#6a6aff" stroke="#0000f4" stroke-width="1.1"/>
<circle cx="84.05" cy="121.80" r="1.25" fill="#6a6aff" stroke="#0000f4" stroke-width="1.1"/>
<circle cx="84.84" cy="122.10" r="1.25" fill="#6a6aff" stroke="#0000f4" stroke-width="1.1"/>
<circle cx="85.63" cy="121.43" r="1.25" fill="#6a6aff" stroke="#0000f4" stroke-width="1.1"/>
<circle cx="86.42" cy="122.11" r="1.25" fill="#6a6aff" stroke="#0000f4" stroke-width="1.1"/>
<circle cx="87.21" cy="122.98" r="1.25" fill="#6a6aff" stroke="#0000f4" stroke-width="1.1"/>
<circle cx="88.00" cy="122.95" r="1.25" fill="#6a6aff" stroke="#0000f4" stroke-width="1.1"/>
<circle cx="88.79" cy="123.11" r="1.25" fill="#6a6aff" stroke="#0000f4" stroke-width="1.1"/>
<circle cx="89.58" cy="123.39" r="1.25" fill="#6a6aff" stroke="#0000f4" stroke-width="1.1"/>
<circle cx="90.37" cy="122.49" r="1.25" fill="#6a6aff" stroke="#0000f4" stroke-width="1.1"/>
<circle cx="91.16" cy="122.41" r="1.25" fill="#6a6aff" stroke="#0000f4" stroke-width="1.1"/>
<circle cx="91.95" cy="122.59" r="1.25" fill="#6a6aff" stroke="#0000f4" stroke-width="1.1"/>
<circle cx="92.74" cy="123.22" r="1.25" fill="#6a6aff" stroke="#0000f4" stroke-width="1.1"/>
<circle cx="93.53" cy="123.56" r="1.25" fill="#6a6aff" stroke="#0000f4" stroke-width="1.1"/>
<circle cx="94.32" cy="124.04" r="1.25" fill="#6a6aff" stroke="#0000f4" stroke-width="1.1"/>
<circle cx="95.11" cy="123.85" r="1.25" fill="#6a6aff" stroke="#0000f4" stroke-width="1.1"/>
<circle cx="48.20" cy="114.00" r="1.2" fill="#ff6a6a" stroke="#f41010" stroke-width="1.1"/>
<circle cx="48.32" cy="115.15" r="1.2" fill="#ff6a6a" stroke="#f41010" stroke-width="1.1"/>
<circle cx="48.43" cy="116.31" r="1.2" fill="#ff6a6a" stroke="#f41010" stroke-width="1.1"/>
<circle cx="48.59" cy="117.43" r="1.2" fill="#ff6a6a" stroke="#f41010" stroke-width="1.1"/>
<circle cx="48.82" cy="118.51" r="1.2" fill="#ff6a6a" stroke="#f41010" stroke-width="1.1"/>
<circle cx="49.05" cy="119.58" r="1.2" fill="#ff6a6a" stroke="#f41010" stroke-width="1.1"/>
<circle cx="49.50" cy="120.45" r="1.2" fill="#ff6a6a" stroke="#f41010" stroke-width="1.1"/>
<circle cx="50.00" cy="121.25" r="1.2" fill="#ff6a6a" stroke="#f41010" stroke-width="1.1"/>
<circle cx="50.55" cy="122.00" r="1.2" fill="#ff6a6a" stroke="#f41010" stroke-width="1.1"/>
<circle cx="51.28" cy="122.50" r="1.2" fill="#ff6a6a" stroke="#f41010" stroke-width="1.1"/>
<circle cx="52.01" cy="123.00" r="1.2" fill="#ff6a6a" stroke="#f41010" stroke-width="1.1"/>
<circle cx="52.67" cy="123.36" r="1.2" fill="#ff6a6a" stroke="#f41010" stroke-width="1.1"/>
<circle cx="53.28" cy="123.63" r="1.2" fill="#ff6a6a" stroke="#f41010" stroke-width="1.1"/>
<circle cx="53.90" cy="123.90" r="1.2" fill="#ff6a6a" stroke="#f41010" stroke-width="1.1"/>
<ellipse cx="53.3" cy="116.6" rx="17.9" ry="14.5" fill="none" stroke="#a3a3a3" stroke-width="1.8" stroke-dasharray="6.2 5.14" stroke-dashoffset="3.1"/>
<line x1="58.40" y1="129.80" x2="187.00" y2="129.80" stroke="#a3a3a3" stroke-width="1.9" stroke-dasharray="6.7 5.4"/>
<polyline points="185.10,125.40 193.20,129.70 185.10,134.20" fill="none" stroke="#a3a3a3" stroke-width="1.9" />
<text x="70.8" y="65.4" font-size="11.7" font-weight="bold" fill="#16871a">HCP-MoOC, 10 A cm<tspan dy="-4.5" font-size="7.6">-2</tspan></text>
<text x="54.4" y="102.6" font-size="11.85" font-weight="bold" fill="#1414ee">Commercial MoO<tspan dy="2.6" font-size="7.6">2</tspan><tspan dy="-2.6">, 1 A cm</tspan><tspan dy="-4.5" font-size="7.6">-2</tspan></text>
<text x="51.9" y="141.0" font-size="12.0" font-weight="bold" fill="#ee1c1c">Pt/C, 1 A cm<tspan dy="-4.5" font-size="7.6">-2</tspan></text>
<rect x="300.6" y="63.5" width="149.0" height="49.599999999999994" fill="#fff" stroke="#1a1a1a" stroke-width="1.5"/>
<line x1="300.60" y1="113.10" x2="300.60" y2="110.50" stroke="#1a1a1a" stroke-width="1" />
<text x="300.60" y="124.40" font-size="10.5" text-anchor="middle" fill="#000" >0</text>
<line x1="337.50" y1="113.10" x2="337.50" y2="110.50" stroke="#1a1a1a" stroke-width="1" />
<text x="337.50" y="124.40" font-size="10.5" text-anchor="middle" fill="#000" >3</text>
<line x1="374.40" y1="113.10" x2="374.40" y2="110.50" stroke="#1a1a1a" stroke-width="1" />
<text x="374.40" y="124.40" font-size="10.5" text-anchor="middle" fill="#000" >6</text>
<line x1="411.30" y1="113.10" x2="411.30" y2="110.50" stroke="#1a1a1a" stroke-width="1" />
<text x="411.30" y="124.40" font-size="10.5" text-anchor="middle" fill="#000" >9</text>
<line x1="448.20" y1="113.10" x2="448.20" y2="110.50" stroke="#1a1a1a" stroke-width="1" />
<text x="448.20" y="124.40" font-size="10.5" text-anchor="middle" fill="#000" >12</text>
<line x1="300.60" y1="67.20" x2="303.20" y2="67.20" stroke="#1a1a1a" stroke-width="1" />
<text x="298.30" y="70.00" font-size="10.5" text-anchor="end" fill="#000" >1.0</text>
<line x1="300.60" y1="98.60" x2="303.20" y2="98.60" stroke="#1a1a1a" stroke-width="1" />
<text x="298.30" y="101.40" font-size="10.5" text-anchor="end" fill="#000" >0.8</text>
<text x="377.30" y="137.60" font-size="11.2" text-anchor="middle" fill="#000" >Time (h)</text>
<text transform="translate(251.2,91.7) rotate(-90)" font-size="11.1" text-anchor="middle">Current density</text>
<text transform="translate(263.9,92.4) rotate(-90)" font-size="11.1" text-anchor="middle">magnitude</text>
<text transform="translate(279.6,90.6) rotate(-90)" font-size="11.1" text-anchor="middle">(A cm<tspan dy="-4.2" font-size="7.5">-2</tspan><tspan dy="4.2">)</tspan></text>
<line x1="302.10" y1="66.70" x2="445.00" y2="66.70" stroke="#1f3a8a" stroke-width="1.4" stroke-dasharray="3.3 1.5"/>
<polyline points="300.80,68.07 301.60,70.08 302.40,70.97 303.20,72.23 304.00,72.40 304.80,74.83 305.60,74.66 306.40,76.62 307.20,76.84 308.00,76.95 308.80,77.35 309.60,78.17 310.40,79.43 311.20,80.10 312.00,79.60 312.80,80.09 313.60,81.32 314.40,81.80 315.20,81.83 316.00,81.90 316.80,82.96 317.60,82.27 318.40,83.16 319.20,83.80 320.00,84.98 320.80,84.69 321.60,85.40 322.40,84.95 323.20,84.79 324.00,85.09 324.80,86.66 325.60,86.45 326.40,85.97 327.20,85.70 328.00,86.80 328.80,87.35 329.60,87.14 330.40,87.08 331.20,88.06 332.00,88.77 332.80,87.71 333.60,87.56 334.40,88.31 335.20,88.66 336.00,89.33 336.80,88.66 337.60,89.93 338.40,90.03 339.20,89.81 340.00,89.47 340.80,91.06 341.60,90.10 342.40,91.23 343.20,90.38 344.00,90.58 344.80,91.77 345.60,91.15 346.40,92.55 347.20,91.94 348.00,91.59 348.80,91.85 349.60,92.40 350.40,93.05 351.20,93.76 352.00,92.51 352.80,93.16 353.60,93.03 354.40,94.60 355.20,93.31 356.00,93.38 356.80,93.62 357.60,94.45 358.40,95.59 359.20,95.79 360.00,95.75 360.80,96.45 361.60,96.56 362.40,95.69 363.20,95.63 364.00,97.18 364.80,97.04 365.60,95.96 366.40,97.30 367.20,96.98 368.00,97.17 368.80,97.30 369.60,97.20 370.40,97.08 371.20,97.71 372.00,97.98 372.80,99.21 373.60,97.85 374.40,99.51 375.20,98.28 376.00,98.69 376.80,99.67 377.60,99.81 378.40,99.25 379.20,98.71 380.00,99.63 380.80,99.60 381.60,100.73 382.40,99.57 383.20,100.03 384.00,101.14 384.80,99.73 385.60,100.56 386.40,101.43 387.20,101.48 388.00,100.31 388.80,100.43 389.60,100.61 390.40,102.29 391.20,101.23 392.00,102.25 392.80,102.65 393.60,101.78 394.40,101.79 395.20,103.15 396.00,102.64 396.80,102.11 397.60,103.04 398.40,102.42 399.20,102.46 400.00,102.07 400.80,103.53 401.60,103.93 402.40,103.53 403.20,104.19 404.00,102.64 404.80,103.13 405.60,103.68 406.40,104.65 407.20,104.76 408.00,103.85 408.80,103.71 409.60,104.14 410.40,104.37 411.20,105.26 412.00,104.03 412.80,105.24 413.60,105.23 414.40,105.48 415.20,105.49 416.00,105.29 416.80,104.89 417.60,104.98 418.40,105.15 419.20,106.01 420.00,104.84 420.80,105.16 421.60,106.26 422.40,105.45 423.20,105.22 424.00,105.26 424.80,106.29 425.60,105.99 426.40,107.26 427.20,107.19 428.00,107.48 428.80,106.27 429.60,106.03 430.40,106.14 431.20,106.95 432.00,107.42 432.80,107.04 433.60,106.74 434.40,107.16 435.20,107.62 436.00,107.80 436.80,108.02 437.60,108.30 438.40,108.06 439.20,107.18 440.00,108.57 440.80,107.68 441.60,108.27 442.40,108.02 443.20,108.77 444.00,107.90 444.80,108.08 445.60,108.17 446.40,108.10 447.20,109.49" fill="none" stroke="#f01e1e" stroke-width="2.7" stroke-linejoin="round"/>
<text x="386.00" y="91.20" font-size="15.5" text-anchor="start" font-weight="bold" fill="#ee1c1c" >28%</text>
<line x1="430.00" y1="72.30" x2="430.00" y2="98.20" stroke="#ee1c1c" stroke-width="1.4" />
<polyline points="426.80,93.00 430.00,98.60 433.20,93.00" fill="none" stroke="#ee1c1c" stroke-width="1.4" />
<rect x="516.5" y="21.6" width="162.0" height="125.80000000000001" fill="none" stroke="#1a1a1a" stroke-width="1.3"/>
<line x1="528.98" y1="147.40" x2="528.98" y2="144.80" stroke="#1a1a1a" stroke-width="1" />
<line x1="541.44" y1="147.40" x2="541.44" y2="146.00" stroke="#1a1a1a" stroke-width="1" />
<line x1="553.90" y1="147.40" x2="553.90" y2="144.80" stroke="#1a1a1a" stroke-width="1" />
<line x1="566.36" y1="147.40" x2="566.36" y2="146.00" stroke="#1a1a1a" stroke-width="1" />
<line x1="578.82" y1="147.40" x2="578.82" y2="144.80" stroke="#1a1a1a" stroke-width="1" />
<line x1="591.28" y1="147.40" x2="591.28" y2="146.00" stroke="#1a1a1a" stroke-width="1" />
<line x1="603.74" y1="147.40" x2="603.74" y2="144.80" stroke="#1a1a1a" stroke-width="1" />
<line x1="616.20" y1="147.40" x2="616.20" y2="146.00" stroke="#1a1a1a" stroke-width="1" />
<line x1="628.66" y1="147.40" x2="628.66" y2="144.80" stroke="#1a1a1a" stroke-width="1" />
<line x1="641.12" y1="147.40" x2="641.12" y2="146.00" stroke="#1a1a1a" stroke-width="1" />
<line x1="653.58" y1="147.40" x2="653.58" y2="144.80" stroke="#1a1a1a" stroke-width="1" />
<line x1="666.04" y1="147.40" x2="666.04" y2="146.00" stroke="#1a1a1a" stroke-width="1" />
<text x="528.98" y="158.80" font-size="10.5" text-anchor="middle" fill="#000" >-0.6</text>
<text x="553.90" y="158.80" font-size="10.5" text-anchor="middle" fill="#000" >-0.5</text>
<text x="578.82" y="158.80" font-size="10.5" text-anchor="middle" fill="#000" >-0.4</text>
<text x="603.74" y="158.80" font-size="10.5" text-anchor="middle" fill="#000" >-0.3</text>
<text x="628.66" y="158.80" font-size="10.5" text-anchor="middle" fill="#000" >-0.2</text>
<text x="653.58" y="158.80" font-size="10.5" text-anchor="middle" fill="#000" >-0.1</text>
<text x="678.50" y="158.80" font-size="10.5" text-anchor="middle" fill="#000" >0.0</text>
<line x1="516.50" y1="27.50" x2="519.10" y2="27.50" stroke="#1a1a1a" stroke-width="1" />
<text x="513.80" y="31.10" font-size="10.5" text-anchor="end" fill="#000" >0</text>
<line x1="516.50" y1="39.47" x2="517.90" y2="39.47" stroke="#1a1a1a" stroke-width="1" />
<line x1="516.50" y1="51.44" x2="519.10" y2="51.44" stroke="#1a1a1a" stroke-width="1" />
<text x="513.80" y="55.04" font-size="10.5" text-anchor="end" fill="#000" >-2</text>
<line x1="516.50" y1="63.41" x2="517.90" y2="63.41" stroke="#1a1a1a" stroke-width="1" />
<line x1="516.50" y1="75.38" x2="519.10" y2="75.38" stroke="#1a1a1a" stroke-width="1" />
<text x="513.80" y="78.98" font-size="10.5" text-anchor="end" fill="#000" >-4</text>
<line x1="516.50" y1="87.35" x2="517.90" y2="87.35" stroke="#1a1a1a" stroke-width="1" />
<line x1="516.50" y1="99.32" x2="519.10" y2="99.32" stroke="#1a1a1a" stroke-width="1" />
<text x="513.80" y="102.92" font-size="10.5" text-anchor="end" fill="#000" >-6</text>
<line x1="516.50" y1="111.29" x2="517.90" y2="111.29" stroke="#1a1a1a" stroke-width="1" />
<line x1="516.50" y1="123.26" x2="519.10" y2="123.26" stroke="#1a1a1a" stroke-width="1" />
<text x="513.80" y="126.86" font-size="10.5" text-anchor="end" fill="#000" >-8</text>
<line x1="516.50" y1="135.23" x2="517.90" y2="135.23" stroke="#1a1a1a" stroke-width="1" />
<line x1="516.50" y1="147.20" x2="519.10" y2="147.20" stroke="#1a1a1a" stroke-width="1" />
<text x="513.80" y="150.80" font-size="10.5" text-anchor="end" fill="#000" >-10</text>
<text x="599.1" y="174.6" font-size="13.2" text-anchor="middle">E-<tspan font-style="italic">iR</tspan> (V vs. RHE)</text>
<text transform="translate(481.0,88.4) rotate(-90)" font-size="12.1" text-anchor="middle">Current density</text>
<text transform="translate(497.6,88.2) rotate(-90)" font-size="12.2" text-anchor="middle">(A cm<tspan dy="-4.5" font-size="8">-2</tspan><tspan dy="4.5">)</tspan></text>
<text x="488.00" y="15.60" font-size="22.5" text-anchor="start" font-weight="bold" fill="#000" >b</text>
<path d="M575.30,147.20 C575.82,143.87 577.12,133.60 578.40,127.20 C579.68,120.80 581.22,115.18 583.00,108.80 C584.78,102.42 586.80,95.27 589.10,88.90 C591.40,82.53 593.98,76.22 596.80,70.60 C599.62,64.98 602.68,59.80 606.00,55.20 C609.32,50.60 612.87,46.57 616.70,43.00 C620.53,39.43 624.67,36.20 629.00,33.80 C633.33,31.40 637.87,29.72 642.70,28.60 C647.53,27.48 652.12,27.40 658.00,27.10 C663.88,26.80 674.67,26.85 678.00,26.80" fill="none" stroke="#f7931e" stroke-width="1.3"/>
<line x1="584.50" y1="121.40" x2="606.60" y2="121.40" stroke="#f7931e" stroke-width="1.4" />
<line x1="584.50" y1="133.50" x2="607.50" y2="133.50" stroke="#fcc48a" stroke-width="1.6" stroke-dasharray="5.1 4.4"/>
<text x="609.40" y="124.60" font-size="9.9" text-anchor="start" fill="#000" >Initial</text>
<text x="609.40" y="137.10" font-size="9.8" text-anchor="start" fill="#000" >After 10k cycles</text>
<rect x="73.7" y="187.2" width="260.90000000000003" height="190.8" fill="none" stroke="#1a1a1a" stroke-width="1.3"/>
<line x1="73.70" y1="359.00" x2="77.30" y2="359.00" stroke="#1a1a1a" stroke-width="1" />
<text x="70.10" y="363.60" font-size="15" text-anchor="end" fill="#000" >0</text>
<line x1="73.70" y1="339.94" x2="75.90" y2="339.94" stroke="#1a1a1a" stroke-width="1" />
<line x1="73.70" y1="320.88" x2="77.30" y2="320.88" stroke="#1a1a1a" stroke-width="1" />
<text x="70.10" y="325.48" font-size="15" text-anchor="end" fill="#000" >4</text>
<line x1="73.70" y1="301.82" x2="75.90" y2="301.82" stroke="#1a1a1a" stroke-width="1" />
<line x1="73.70" y1="282.76" x2="77.30" y2="282.76" stroke="#1a1a1a" stroke-width="1" />
<text x="70.10" y="287.36" font-size="15" text-anchor="end" fill="#000" >8</text>
<line x1="73.70" y1="263.70" x2="75.90" y2="263.70" stroke="#1a1a1a" stroke-width="1" />
<line x1="73.70" y1="244.64" x2="77.30" y2="244.64" stroke="#1a1a1a" stroke-width="1" />
<text x="70.10" y="249.24" font-size="15" text-anchor="end" fill="#000" >12</text>
<line x1="73.70" y1="225.58" x2="75.90" y2="225.58" stroke="#1a1a1a" stroke-width="1" />
<line x1="73.70" y1="206.52" x2="77.30" y2="206.52" stroke="#1a1a1a" stroke-width="1" />
<text x="70.10" y="211.12" font-size="15" text-anchor="end" fill="#000" >16</text>
<line x1="73.50" y1="378.00" x2="73.50" y2="374.40" stroke="#1a1a1a" stroke-width="1" />
<text x="73.50" y="393.60" font-size="14.5" text-anchor="middle" fill="#000" >1</text>
<line x1="110.80" y1="378.00" x2="110.80" y2="375.80" stroke="#1a1a1a" stroke-width="1" />
<line x1="148.10" y1="378.00" x2="148.10" y2="374.40" stroke="#1a1a1a" stroke-width="1" />
<text x="148.10" y="393.60" font-size="14.5" text-anchor="middle" fill="#000" >2</text>
<line x1="185.40" y1="378.00" x2="185.40" y2="375.80" stroke="#1a1a1a" stroke-width="1" />
<line x1="222.70" y1="378.00" x2="222.70" y2="374.40" stroke="#1a1a1a" stroke-width="1" />
<text x="222.70" y="393.60" font-size="14.5" text-anchor="middle" fill="#000" >3</text>
<line x1="260.00" y1="378.00" x2="260.00" y2="375.80" stroke="#1a1a1a" stroke-width="1" />
<line x1="297.30" y1="378.00" x2="297.30" y2="374.40" stroke="#1a1a1a" stroke-width="1" />
<text x="297.30" y="393.60" font-size="14.5" text-anchor="middle" fill="#000" >4</text>
<text x="28.40" y="194.90" font-size="23" text-anchor="start" font-weight="bold" fill="#000" >c</text>
<text transform="translate(44.2,294.1) rotate(-90)" font-size="17.2" text-anchor="middle">Biding energy (eV)</text>
<text x="199.80" y="415.60" font-size="17" text-anchor="middle" fill="#000" >Bond length (&#197;)</text>
<line x1="75.20" y1="345.50" x2="334.60" y2="345.50" stroke="#111" stroke-width="1.5" stroke-dasharray="4.7 3.5"/>
<polyline points="96.50,250.20 107.70,324.60 118.70,351.10 129.90,358.30 141.10,359.20 152.30,359.20 163.50,357.70 174.70,355.40 185.80,353.60 196.80,351.80 208.10,350.40 219.30,349.50 230.50,347.90 241.80,347.60 253.00,346.00 264.20,345.90 275.30,345.20 286.40,346.60 297.60,346.50 308.80,346.60 319.90,346.60 331.10,346.40" fill="none" stroke="#ff3a3a" stroke-width="0.8" />
<circle cx="96.50" cy="250.20" r="4.3" fill="url(#gr)"/>
<circle cx="107.70" cy="324.60" r="4.3" fill="url(#gr)"/>
<circle cx="118.70" cy="351.10" r="4.3" fill="url(#gr)"/>
<circle cx="129.90" cy="358.30" r="4.3" fill="url(#gr)"/>
<circle cx="141.10" cy="359.20" r="4.3" fill="url(#gr)"/>
<circle cx="152.30" cy="359.20" r="4.3" fill="url(#gr)"/>
<circle cx="163.50" cy="357.70" r="4.3" fill="url(#gr)"/>
<circle cx="174.70" cy="355.40" r="4.3" fill="url(#gr)"/>
<circle cx="185.80" cy="353.60" r="4.3" fill="url(#gr)"/>
<circle cx="196.80" cy="351.80" r="4.3" fill="url(#gr)"/>
<circle cx="208.10" cy="350.40" r="4.3" fill="url(#gr)"/>
<circle cx="219.30" cy="349.50" r="4.3" fill="url(#gr)"/>
<circle cx="230.50" cy="347.90" r="4.3" fill="url(#gr)"/>
<circle cx="241.80" cy="347.60" r="4.3" fill="url(#gr)"/>
<circle cx="253.00" cy="346.00" r="4.3" fill="url(#gr)"/>
<circle cx="264.20" cy="345.90" r="4.3" fill="url(#gr)"/>
<circle cx="275.30" cy="345.20" r="4.3" fill="url(#gr)"/>
<circle cx="286.40" cy="346.60" r="4.3" fill="url(#gr)"/>
<circle cx="297.60" cy="346.50" r="4.3" fill="url(#gr)"/>
<circle cx="308.80" cy="346.60" r="4.3" fill="url(#gr)"/>
<circle cx="319.90" cy="346.60" r="4.3" fill="url(#gr)"/>
<circle cx="331.10" cy="346.40" r="4.3" fill="url(#gr)"/>
<line x1="128.50" y1="358.00" x2="164.00" y2="358.00" stroke="#111" stroke-width="1.5" stroke-dasharray="4.7 3.5"/>
<polygon points="141.0,344.6 144.6,351.2 141.0,357.6 137.4,351.2" fill="#1a72c4"/>
<text x="129.80" y="338.40" font-size="17" text-anchor="start" fill="#2a7cc4" >1.4 eV (1.91 &#197;)</text>
<circle cx="279.40" cy="200.70" r="4.3" fill="url(#gr)"/>
<text x="294.0" y="205.4" font-size="13" fill="#000">MoO<tspan dy="3" font-size="9">2</tspan></text>
<rect x="396.7" y="187.2" width="261.59999999999997" height="190.7" fill="none" stroke="#1a1a1a" stroke-width="1.3"/>
<line x1="396.70" y1="359.00" x2="400.30" y2="359.00" stroke="#1a1a1a" stroke-width="1" />
<text x="393.10" y="363.60" font-size="15" text-anchor="end" fill="#000" >0</text>
<line x1="396.70" y1="339.94" x2="398.90" y2="339.94" stroke="#1a1a1a" stroke-width="1" />
<line x1="396.70" y1="320.88" x2="400.30" y2="320.88" stroke="#1a1a1a" stroke-width="1" />
<text x="393.10" y="325.48" font-size="15" text-anchor="end" fill="#000" >4</text>
<line x1="396.70" y1="301.82" x2="398.90" y2="301.82" stroke="#1a1a1a" stroke-width="1" />
<line x1="396.70" y1="282.76" x2="400.30" y2="282.76" stroke="#1a1a1a" stroke-width="1" />
<text x="393.10" y="287.36" font-size="15" text-anchor="end" fill="#000" >8</text>
<line x1="396.70" y1="263.70" x2="398.90" y2="263.70" stroke="#1a1a1a" stroke-width="1" />
<line x1="396.70" y1="244.64" x2="400.30" y2="244.64" stroke="#1a1a1a" stroke-width="1" />
<text x="393.10" y="249.24" font-size="15" text-anchor="end" fill="#000" >12</text>
<line x1="396.70" y1="225.58" x2="398.90" y2="225.58" stroke="#1a1a1a" stroke-width="1" />
<line x1="396.70" y1="206.52" x2="400.30" y2="206.52" stroke="#1a1a1a" stroke-width="1" />
<text x="393.10" y="211.12" font-size="15" text-anchor="end" fill="#000" >16</text>
<line x1="396.60" y1="377.90" x2="396.60" y2="374.30" stroke="#1a1a1a" stroke-width="1" />
<text x="396.60" y="393.50" font-size="14.5" text-anchor="middle" fill="#000" >1</text>
<line x1="425.68" y1="377.90" x2="425.68" y2="375.70" stroke="#1a1a1a" stroke-width="1" />
<line x1="454.75" y1="377.90" x2="454.75" y2="374.30" stroke="#1a1a1a" stroke-width="1" />
<text x="454.75" y="393.50" font-size="14.5" text-anchor="middle" fill="#000" >2</text>
<line x1="483.83" y1="377.90" x2="483.83" y2="375.70" stroke="#1a1a1a" stroke-width="1" />
<line x1="512.90" y1="377.90" x2="512.90" y2="374.30" stroke="#1a1a1a" stroke-width="1" />
<text x="512.90" y="393.50" font-size="14.5" text-anchor="middle" fill="#000" >3</text>
<line x1="541.98" y1="377.90" x2="541.98" y2="375.70" stroke="#1a1a1a" stroke-width="1" />
<line x1="571.05" y1="377.90" x2="571.05" y2="374.30" stroke="#1a1a1a" stroke-width="1" />
<text x="571.05" y="393.50" font-size="14.5" text-anchor="middle" fill="#000" >4</text>
<line x1="600.12" y1="377.90" x2="600.12" y2="375.70" stroke="#1a1a1a" stroke-width="1" />
<line x1="629.20" y1="377.90" x2="629.20" y2="374.30" stroke="#1a1a1a" stroke-width="1" />
<text x="629.20" y="393.50" font-size="14.5" text-anchor="middle" fill="#000" >5</text>
<text x="361.20" y="194.90" font-size="23" text-anchor="start" font-weight="bold" fill="#000" >d</text>
<text transform="translate(367.2,294.1) rotate(-90)" font-size="17.2" text-anchor="middle">Biding energy (eV)</text>
<text x="537.10" y="415.60" font-size="17" text-anchor="middle" fill="#000" >Bond length (&#197;)</text>
<line x1="398.20" y1="340.40" x2="658.30" y2="340.40" stroke="#111" stroke-width="1.5" stroke-dasharray="4.7 3.6"/>
<polyline points="412.20,209.30 421.00,305.80 429.40,344.50 437.90,356.50 446.80,358.80 455.70,357.40 464.10,355.70 472.60,352.50 481.50,353.90 490.40,351.60 498.90,350.30 507.80,345.90 516.20,349.00 525.10,348.10 533.60,347.20 542.50,345.00 551.40,345.00 559.90,346.70 568.80,346.30 577.70,346.30 586.10,346.30 594.60,346.30 603.50,345.90 612.00,346.30 620.90,343.60 629.30,343.60 638.20,343.60 646.70,342.30 655.60,343.60" fill="none" stroke="#6ee86e" stroke-width="0.8" />
<circle cx="412.20" cy="209.30" r="4.3" fill="url(#gg)"/>
<circle cx="421.00" cy="305.80" r="4.3" fill="url(#gg)"/>
<circle cx="429.40" cy="344.50" r="4.3" fill="url(#gg)"/>
<circle cx="437.90" cy="356.50" r="4.3" fill="url(#gg)"/>
<circle cx="446.80" cy="358.80" r="4.3" fill="url(#gg)"/>
<circle cx="455.70" cy="357.40" r="4.3" fill="url(#gg)"/>
<circle cx="464.10" cy="355.70" r="4.3" fill="url(#gg)"/>
<circle cx="472.60" cy="352.50" r="4.3" fill="url(#gg)"/>
<circle cx="481.50" cy="353.90" r="4.3" fill="url(#gg)"/>
<circle cx="490.40" cy="351.60" r="4.3" fill="url(#gg)"/>
<circle cx="498.90" cy="350.30" r="4.3" fill="url(#gg)"/>
<circle cx="507.80" cy="345.90" r="4.3" fill="url(#gg)"/>
<circle cx="516.20" cy="349.00" r="4.3" fill="url(#gg)"/>
<circle cx="525.10" cy="348.10" r="4.3" fill="url(#gg)"/>
<circle cx="533.60" cy="347.20" r="4.3" fill="url(#gg)"/>
<circle cx="542.50" cy="345.00" r="4.3" fill="url(#gg)"/>
<circle cx="551.40" cy="345.00" r="4.3" fill="url(#gg)"/>
<circle cx="559.90" cy="346.70" r="4.3" fill="url(#gg)"/>
<circle cx="568.80" cy="346.30" r="4.3" fill="url(#gg)"/>
<circle cx="577.70" cy="346.30" r="4.3" fill="url(#gg)"/>
<circle cx="586.10" cy="346.30" r="4.3" fill="url(#gg)"/>
<circle cx="594.60" cy="346.30" r="4.3" fill="url(#gg)"/>
<circle cx="603.50" cy="345.90" r="4.3" fill="url(#gg)"/>
<circle cx="612.00" cy="346.30" r="4.3" fill="url(#gg)"/>
<circle cx="620.90" cy="343.60" r="4.3" fill="url(#gg)"/>
<circle cx="629.30" cy="343.60" r="4.3" fill="url(#gg)"/>
<circle cx="638.20" cy="343.60" r="4.3" fill="url(#gg)"/>
<circle cx="646.70" cy="342.30" r="4.3" fill="url(#gg)"/>
<circle cx="655.60" cy="343.60" r="4.3" fill="url(#gg)"/>
<line x1="399.70" y1="358.10" x2="447.00" y2="358.10" stroke="#111" stroke-width="1.5" stroke-dasharray="4.7 3.6"/>
<line x1="415.40" y1="345.00" x2="415.40" y2="353.00" stroke="#1a72c4" stroke-width="2.0" />
<polygon points="415.4,340.8 418.9,347.4 411.9,347.4" fill="#1a72c4"/>
<polygon points="415.4,356.9 418.9,350.3 411.9,350.3" fill="#1a72c4"/>
<text x="437.80" y="332.60" font-size="17" text-anchor="start" fill="#2a7cc4" >1.7 eV (1.87 &#197;)</text>
<circle cx="601.00" cy="201.00" r="4.3" fill="url(#gg)"/>
<text x="613.20" y="205.60" font-size="14" text-anchor="start" fill="#000" >MoOC</text>
<polygon points="163.5,234.2 140.6,255.8 163.5,280.5 186.1,258.5" fill="#9c7e9a"/>
<polygon points="163.5,234.2 140.6,255.8 156.0,260.9" fill="#8d6e8b"/>
<polygon points="163.5,234.2 156.0,260.9 186.1,258.5" fill="#a889a6"/>
<polygon points="140.6,255.8 156.0,260.9 163.5,280.5" fill="#7d6079"/>
<polygon points="156.0,260.9 186.1,258.5 163.5,280.5" fill="#987a96"/>
<circle cx="163.5" cy="257.0" r="4.8" fill="url(#gm)"/>
<line x1="163.5" y1="257.0" x2="163.5" y2="234.2" stroke="#d05068" stroke-width="0.7" stroke-opacity="0.45"/>
<line x1="163.5" y1="257.0" x2="140.6" y2="255.8" stroke="#d05068" stroke-width="0.7" stroke-opacity="0.45"/>
<line x1="163.5" y1="257.0" x2="186.1" y2="258.5" stroke="#d05068" stroke-width="0.7" stroke-opacity="0.45"/>
<line x1="163.5" y1="257.0" x2="163.5" y2="280.5" stroke="#d05068" stroke-width="0.7" stroke-opacity="0.45"/>
<line x1="163.5" y1="257.0" x2="171" y2="253.6" stroke="#d05068" stroke-width="0.7" stroke-opacity="0.45"/>
<line x1="171" y1="253.6" x2="163.5" y2="234.2" stroke="#c8aec6" stroke-width="0.6" stroke-opacity="0.6"/>
<line x1="171" y1="253.6" x2="140.6" y2="255.8" stroke="#c8aec6" stroke-width="0.6" stroke-opacity="0.6"/>
<line x1="171" y1="253.6" x2="186.1" y2="258.5" stroke="#c8aec6" stroke-width="0.6" stroke-opacity="0.6"/>
<line x1="171" y1="253.6" x2="163.5" y2="280.5" stroke="#c8aec6" stroke-width="0.6" stroke-opacity="0.6"/>
<line x1="163.50" y1="234.20" x2="156.00" y2="260.90" stroke="#d6c2d4" stroke-width="0.8" />
<line x1="140.60" y1="255.80" x2="156.00" y2="260.90" stroke="#d6c2d4" stroke-width="0.8" />
<line x1="156.00" y1="260.90" x2="186.10" y2="258.50" stroke="#d6c2d4" stroke-width="0.8" />
<line x1="156.00" y1="260.90" x2="163.50" y2="280.50" stroke="#d6c2d4" stroke-width="0.8" />
<line x1="163.50" y1="234.20" x2="140.60" y2="255.80" stroke="#8a6c88" stroke-width="0.5" />
<line x1="140.60" y1="255.80" x2="163.50" y2="280.50" stroke="#8a6c88" stroke-width="0.5" />
<line x1="163.50" y1="280.50" x2="186.10" y2="258.50" stroke="#8a6c88" stroke-width="0.5" />
<line x1="186.10" y1="258.50" x2="163.50" y2="234.20" stroke="#8a6c88" stroke-width="0.5" />
<circle cx="163.50" cy="234.20" r="3.2" fill="url(#go)"/>
<circle cx="140.60" cy="255.80" r="3.2" fill="url(#go)"/>
<circle cx="186.10" cy="258.50" r="3.2" fill="url(#go)"/>
<circle cx="163.50" cy="280.50" r="3.2" fill="url(#go)"/>
<circle cx="156.00" cy="260.90" r="3.2" fill="url(#go)"/>
<polygon points="197.60,253.30 204.40,253.30 204.40,248.90 211.90,257.60 204.40,266.30 204.40,261.90 197.60,261.90" fill="#1ee8f0" stroke="#3d6fa6" stroke-width="0.9" stroke-linejoin="miter"/>
<polygon points="245.9,232.6 224.0,256.0 246.6,281.0 286.6,258.1" fill="#9c7e9a"/>
<polygon points="245.9,232.6 224.0,256.0 239.3,260.2" fill="#8d6e8b"/>
<polygon points="245.9,232.6 239.3,260.2 286.6,258.1" fill="#a889a6"/>
<polygon points="224.0,256.0 239.3,260.2 246.6,281.0" fill="#7d6079"/>
<polygon points="239.3,260.2 286.6,258.1 246.6,281.0" fill="#987a96"/>
<circle cx="247" cy="256.5" r="4.8" fill="url(#gm)"/>
<line x1="247" y1="256.5" x2="245.9" y2="232.6" stroke="#d05068" stroke-width="0.7" stroke-opacity="0.45"/>
<line x1="247" y1="256.5" x2="224.0" y2="256.0" stroke="#d05068" stroke-width="0.7" stroke-opacity="0.45"/>
<line x1="247" y1="256.5" x2="286.6" y2="258.1" stroke="#d05068" stroke-width="0.7" stroke-opacity="0.45"/>
<line x1="247" y1="256.5" x2="246.6" y2="281.0" stroke="#d05068" stroke-width="0.7" stroke-opacity="0.45"/>
<line x1="247" y1="256.5" x2="254" y2="252" stroke="#d05068" stroke-width="0.7" stroke-opacity="0.45"/>
<line x1="254" y1="252" x2="245.9" y2="232.6" stroke="#c8aec6" stroke-width="0.6" stroke-opacity="0.6"/>
<line x1="254" y1="252" x2="224.0" y2="256.0" stroke="#c8aec6" stroke-width="0.6" stroke-opacity="0.6"/>
<line x1="254" y1="252" x2="286.6" y2="258.1" stroke="#c8aec6" stroke-width="0.6" stroke-opacity="0.6"/>
<line x1="254" y1="252" x2="246.6" y2="281.0" stroke="#c8aec6" stroke-width="0.6" stroke-opacity="0.6"/>
<line x1="245.90" y1="232.60" x2="239.30" y2="260.20" stroke="#d6c2d4" stroke-width="0.8" />
<line x1="224.00" y1="256.00" x2="239.30" y2="260.20" stroke="#d6c2d4" stroke-width="0.8" />
<line x1="239.30" y1="260.20" x2="286.60" y2="258.10" stroke="#d6c2d4" stroke-width="0.8" />
<line x1="239.30" y1="260.20" x2="246.60" y2="281.00" stroke="#d6c2d4" stroke-width="0.8" />
<line x1="245.90" y1="232.60" x2="224.00" y2="256.00" stroke="#8a6c88" stroke-width="0.5" />
<line x1="224.00" y1="256.00" x2="246.60" y2="281.00" stroke="#8a6c88" stroke-width="0.5" />
<line x1="246.60" y1="281.00" x2="286.60" y2="258.10" stroke="#8a6c88" stroke-width="0.5" />
<line x1="286.60" y1="258.10" x2="245.90" y2="232.60" stroke="#8a6c88" stroke-width="0.5" />
<circle cx="245.90" cy="232.60" r="3.2" fill="url(#go)"/>
<circle cx="224.00" cy="256.00" r="3.2" fill="url(#go)"/>
<circle cx="286.60" cy="258.10" r="3.2" fill="url(#go)"/>
<circle cx="246.60" cy="281.00" r="3.2" fill="url(#go)"/>
<circle cx="239.30" cy="260.20" r="3.2" fill="url(#go)"/>
<polygon points="479.7,230.3 455.3,255.2 479.7,281.0 503.2,257.4" fill="#9c7e9a"/>
<polygon points="479.7,230.3 455.3,255.2 470.5,261.0" fill="#8d6e8b"/>
<polygon points="479.7,230.3 470.5,261.0 503.2,257.4" fill="#a889a6"/>
<polygon points="455.3,255.2 470.5,261.0 479.7,281.0" fill="#7d6079"/>
<polygon points="470.5,261.0 503.2,257.4 479.7,281.0" fill="#987a96"/>
<circle cx="480" cy="255" r="4.8" fill="url(#gm)"/>
<line x1="480" y1="255" x2="479.7" y2="230.3" stroke="#d05068" stroke-width="0.7" stroke-opacity="0.45"/>
<line x1="480" y1="255" x2="455.3" y2="255.2" stroke="#d05068" stroke-width="0.7" stroke-opacity="0.45"/>
<line x1="480" y1="255" x2="503.2" y2="257.4" stroke="#d05068" stroke-width="0.7" stroke-opacity="0.45"/>
<line x1="480" y1="255" x2="479.7" y2="281.0" stroke="#d05068" stroke-width="0.7" stroke-opacity="0.45"/>
<line x1="480" y1="255" x2="487" y2="252" stroke="#d05068" stroke-width="0.7" stroke-opacity="0.45"/>
<line x1="487" y1="252" x2="479.7" y2="230.3" stroke="#c8aec6" stroke-width="0.6" stroke-opacity="0.6"/>
<line x1="487" y1="252" x2="455.3" y2="255.2" stroke="#c8aec6" stroke-width="0.6" stroke-opacity="0.6"/>
<line x1="487" y1="252" x2="503.2" y2="257.4" stroke="#c8aec6" stroke-width="0.6" stroke-opacity="0.6"/>
<line x1="487" y1="252" x2="479.7" y2="281.0" stroke="#c8aec6" stroke-width="0.6" stroke-opacity="0.6"/>
<line x1="479.70" y1="230.30" x2="470.50" y2="261.00" stroke="#d6c2d4" stroke-width="0.8" />
<line x1="455.30" y1="255.20" x2="470.50" y2="261.00" stroke="#d6c2d4" stroke-width="0.8" />
<line x1="470.50" y1="261.00" x2="503.20" y2="257.40" stroke="#d6c2d4" stroke-width="0.8" />
<line x1="470.50" y1="261.00" x2="479.70" y2="281.00" stroke="#d6c2d4" stroke-width="0.8" />
<line x1="479.70" y1="230.30" x2="455.30" y2="255.20" stroke="#8a6c88" stroke-width="0.5" />
<line x1="455.30" y1="255.20" x2="479.70" y2="281.00" stroke="#8a6c88" stroke-width="0.5" />
<line x1="479.70" y1="281.00" x2="503.20" y2="257.40" stroke="#8a6c88" stroke-width="0.5" />
<line x1="503.20" y1="257.40" x2="479.70" y2="230.30" stroke="#8a6c88" stroke-width="0.5" />
<circle cx="479.70" cy="230.30" r="3.2" fill="url(#go)"/>
<circle cx="455.30" cy="255.20" r="3.2" fill="url(#go)"/>
<circle cx="503.20" cy="257.40" r="3.2" fill="url(#go)"/>
<circle cx="479.70" cy="281.00" r="3.2" fill="url(#go)"/>
<circle cx="470.50" cy="261.00" r="3.2" fill="url(#gc)"/>
<polygon points="518.40,254.20 525.60,254.20 525.60,249.30 533.70,258.50 525.60,267.70 525.60,262.80 518.40,262.80" fill="#1ee8f0" stroke="#3d6fa6" stroke-width="0.9" stroke-linejoin="miter"/>
<polygon points="570.4,226.9 546.2,251.9 570.4,279.6 620.3,256.0" fill="#9c7e9a"/>
<polygon points="570.4,226.9 546.2,251.9 560.1,257.4" fill="#8d6e8b"/>
<polygon points="570.4,226.9 560.1,257.4 620.3,256.0" fill="#a889a6"/>
<polygon points="546.2,251.9 560.1,257.4 570.4,279.6" fill="#7d6079"/>
<polygon points="560.1,257.4 620.3,256.0 570.4,279.6" fill="#987a96"/>
<circle cx="572" cy="253" r="4.8" fill="url(#gm)"/>
<line x1="572" y1="253" x2="570.4" y2="226.9" stroke="#d05068" stroke-width="0.7" stroke-opacity="0.45"/>
<line x1="572" y1="253" x2="546.2" y2="251.9" stroke="#d05068" stroke-width="0.7" stroke-opacity="0.45"/>
<line x1="572" y1="253" x2="620.3" y2="256.0" stroke="#d05068" stroke-width="0.7" stroke-opacity="0.45"/>
<line x1="572" y1="253" x2="570.4" y2="279.6" stroke="#d05068" stroke-width="0.7" stroke-opacity="0.45"/>
<line x1="572" y1="253" x2="578" y2="250" stroke="#d05068" stroke-width="0.7" stroke-opacity="0.45"/>
<line x1="578" y1="250" x2="570.4" y2="226.9" stroke="#c8aec6" stroke-width="0.6" stroke-opacity="0.6"/>
<line x1="578" y1="250" x2="546.2" y2="251.9" stroke="#c8aec6" stroke-width="0.6" stroke-opacity="0.6"/>
<line x1="578" y1="250" x2="620.3" y2="256.0" stroke="#c8aec6" stroke-width="0.6" stroke-opacity="0.6"/>
<line x1="578" y1="250" x2="570.4" y2="279.6" stroke="#c8aec6" stroke-width="0.6" stroke-opacity="0.6"/>
<line x1="570.40" y1="226.90" x2="560.10" y2="257.40" stroke="#d6c2d4" stroke-width="0.8" />
<line x1="546.20" y1="251.90" x2="560.10" y2="257.40" stroke="#d6c2d4" stroke-width="0.8" />
<line x1="560.10" y1="257.40" x2="620.30" y2="256.00" stroke="#d6c2d4" stroke-width="0.8" />
<line x1="560.10" y1="257.40" x2="570.40" y2="279.60" stroke="#d6c2d4" stroke-width="0.8" />
<line x1="570.40" y1="226.90" x2="546.20" y2="251.90" stroke="#8a6c88" stroke-width="0.5" />
<line x1="546.20" y1="251.90" x2="570.40" y2="279.60" stroke="#8a6c88" stroke-width="0.5" />
<line x1="570.40" y1="279.60" x2="620.30" y2="256.00" stroke="#8a6c88" stroke-width="0.5" />
<line x1="620.30" y1="256.00" x2="570.40" y2="226.90" stroke="#8a6c88" stroke-width="0.5" />
<circle cx="570.40" cy="226.90" r="3.2" fill="url(#go)"/>
<circle cx="546.20" cy="251.90" r="3.2" fill="url(#go)"/>
<circle cx="620.30" cy="256.00" r="3.2" fill="url(#go)"/>
<circle cx="570.40" cy="279.60" r="3.2" fill="url(#go)"/>
<circle cx="560.10" cy="257.40" r="3.2" fill="url(#gc)"/>
</svg></body></html>
